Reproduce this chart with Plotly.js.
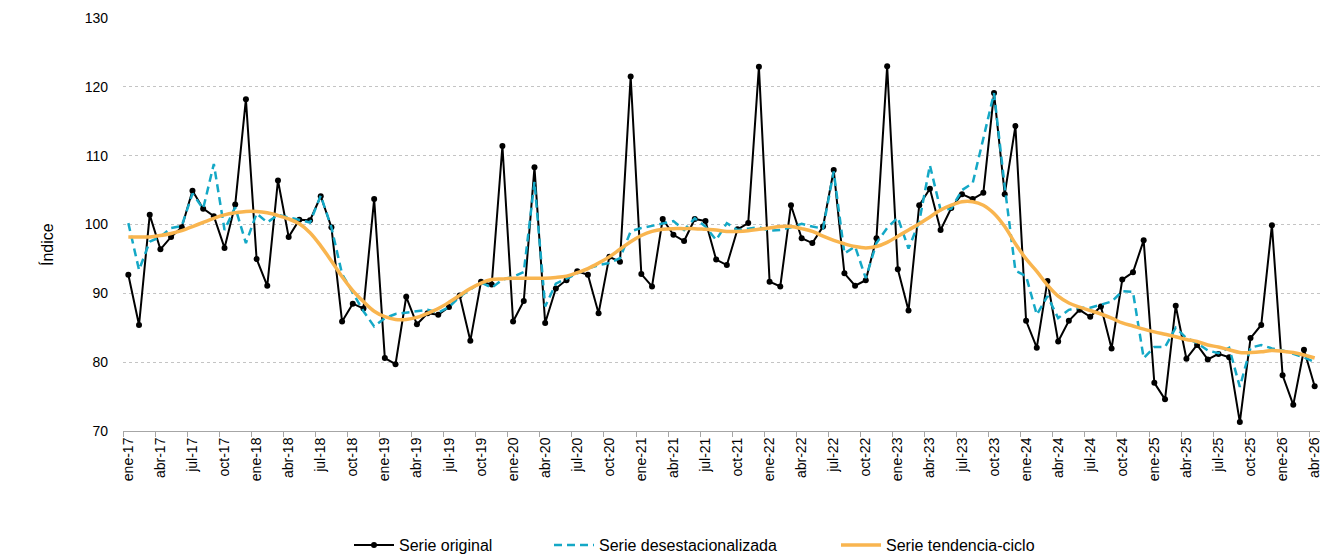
<!DOCTYPE html>
<html>
<head>
<meta charset="utf-8">
<script src="https://cdn.plot.ly/plotly-3.0.1.min.js"></script>
<style>html,body{margin:0;padding:0;background:#fff;}#chart{width:1336px;height:556px;}</style>
</head>
<body>
<div id="chart"></div>
<script>
// Tick labels (every 3 months, starting ene-17)
var tickLabels = ['ene-17','abr-17','jul-17','oct-17','ene-18','abr-18','jul-18','oct-18',
  'ene-19','abr-19','jul-19','oct-19','ene-20','abr-20','jul-20','oct-20',
  'ene-21','abr-21','jul-21','oct-21','ene-22','abr-22','jul-22','oct-22',
  'ene-23','abr-23','jul-23','oct-23','ene-24','abr-24','jul-24','oct-24',
  'ene-25','abr-25','jul-25','oct-25','ene-26','abr-26'];

// Serie original (monthly, ene-17 .. abr-26)
var serieOriginal = [
  92.7, 85.4, 101.4, 96.4, 98.2, 99.6, 104.9, 102.3, 101.2, 96.6, 102.9, 118.2,
  95.0, 91.1, 106.4, 98.2, 100.7, 100.6, 104.1, 99.6, 85.9, 88.5, 87.8, 103.7,
  80.6, 79.7, 89.5, 85.5, 87.1, 86.9, 88.0, 89.7, 83.1, 91.7, 91.3, 111.4,
  85.9, 88.9, 108.3, 85.7, 90.7, 91.9, 93.2, 92.7, 87.1, 95.3, 94.6, 121.5,
  92.8, 91.0, 100.8, 98.5, 97.6, 100.8, 100.5, 94.9, 94.1, 99.3, 100.2, 122.9,
  91.7, 91.0, 102.8, 98.0, 97.3, 99.7, 107.9, 92.9, 91.1, 91.9, 98.0, 123.0,
  93.5, 87.5, 102.8, 105.2, 99.2, 102.4, 104.4, 103.7, 104.6, 119.1, 104.4, 114.3,
  86.0, 82.1, 91.8, 83.0, 86.0, 87.6, 86.6, 88.1, 82.0, 92.0, 93.05, 97.7,
  77.0, 74.6, 88.2, 80.5, 82.5, 80.4, 81.2, 80.7, 71.3, 83.5, 85.4, 99.9,
  78.1, 73.8, 81.8, 76.5];

// Serie desestacionalizada
var serieDesest = [
  100.2, 93.4, 97.5, 98.2, 99.5, 99.8, 104.5, 102.3, 108.8, 99.2, 102.5, 97.3,
  101.6, 100.3, 101.4, 101.0, 100.6, 100.3, 104.2, 99.6, 92.8, 90.2, 87.4, 85.2,
  86.4, 87.0, 87.2, 87.5, 87.6, 87.2, 88.0, 89.5, 90.5, 91.6, 90.8, 92.0,
  92.4, 93.1, 106.2, 88.1, 91.4, 92.2, 92.9, 93.6, 94.1, 94.4, 95.1, 99.0,
  99.5, 99.8, 100.2, 100.5, 99.2, 100.9, 99.7, 97.75, 100.2, 99.2, 99.4, 99.6,
  99.1, 99.2, 99.6, 100.1, 99.7, 99.4, 107.7, 95.8, 96.8, 92.2, 97.3, 99.5,
  101.0, 96.5, 100.4, 108.6, 102.1, 102.3, 105.0, 106.0, 112.5, 119.1, 105.5, 93.3,
  92.5, 86.9, 89.6, 86.4, 87.6, 87.9, 87.9, 88.3, 88.8, 90.3, 90.2, 80.6,
  82.2, 82.2, 85.0, 83.5, 82.8, 81.7, 81.3, 82.1, 76.4, 82.1, 82.5, 82.0,
  81.7, 81.2, 80.7, 80.0];

// Serie tendencia-ciclo
var serieTendencia = [
  98.2, 98.2, 98.2, 98.4, 98.7, 99.1, 99.7, 100.3, 100.9, 101.4, 101.7, 101.9,
  101.9, 101.7, 101.3, 100.8, 100.1, 98.8, 96.9, 94.7, 92.4, 90.4, 88.8, 87.4,
  86.6, 86.2, 86.2, 86.5, 87.1, 87.8, 88.7, 89.7, 90.7, 91.5, 92.0, 92.1,
  92.2, 92.2, 92.2, 92.2, 92.3, 92.5, 93.0, 93.6, 94.4, 95.3, 96.4, 97.5,
  98.4, 99.0, 99.3, 99.4, 99.4, 99.4, 99.3, 99.2, 99.0, 99.0, 99.1, 99.3,
  99.5, 99.7, 99.7, 99.4, 99.0, 98.3, 97.7, 97.2, 96.8, 96.6, 96.8, 97.4,
  98.3, 99.2, 100.1, 101.1, 102.1, 102.8, 103.3, 103.3, 102.8, 101.6, 99.7, 97.2,
  95.0, 93.2, 91.2, 89.6, 88.6, 88.0, 87.5, 87.0, 86.4, 85.7, 85.25, 84.8,
  84.4, 84.05, 83.7, 83.3, 83.0, 82.5, 82.2, 81.8, 81.4, 81.4, 81.5, 81.7,
  81.6, 81.4, 81.05, 80.6];

var idx = serieOriginal.map(function(_, i){ return i; });
var tickVals = tickLabels.map(function(_, k){ return k * 3; });
var boundaryVals = tickLabels.map(function(_, k){ return k * 3 - 0.5; });

var FONT = 'Liberation Sans, Arial, sans-serif';

var traces = [
  {x: idx, y: serieOriginal, name: 'Serie original', type: 'scatter', mode: 'lines+markers',
   line: {color: '#000000', width: 2}, marker: {color: '#000000', size: 6}, legend: 'legend'},
  {x: idx, y: serieDesest, name: 'Serie desestacionalizada', type: 'scatter', mode: 'lines',
   line: {color: '#14A8C6', width: 2.5, dash: '8px,5px'}, legend: 'legend2'},
  {x: idx, y: serieTendencia, name: 'Serie tendencia-ciclo', type: 'scatter', mode: 'lines',
   line: {color: '#F9B54F', width: 3.5, shape: 'spline'}, legend: 'legend3'}
];

function leg(x){
  return {orientation: 'h', x: x, xanchor: 'left', xref: 'container',
    y: 1 - 545 / 556, yanchor: 'middle', yref: 'container', itemwidth: 40,
    bgcolor: 'rgba(0,0,0,0)', font: {family: FONT, size: 16, color: '#000'}};
}

var layout = {
  width: 1336, height: 556,
  margin: {l: 123, r: 16, t: 18, b: 125},
  paper_bgcolor: '#ffffff', plot_bgcolor: '#ffffff',
  font: {family: FONT, size: 14, color: '#000'},
  showlegend: true,
  legend: leg(349 / 1336),
  legend2: leg(549 / 1336),
  legend3: leg(836 / 1336),
  xaxis: {
    range: [-0.5, 111.5], tickmode: 'array', tickvals: tickVals, ticktext: tickLabels,
    tickangle: -90, ticks: '', showline: true, linecolor: '#A6A6A6', linewidth: 1,
    showgrid: false, zeroline: false, automargin: false,
    tickfont: {family: FONT, size: 14, color: '#000'},
    minor: {tickmode: 'array', tickvals: boundaryVals, ticks: 'outside', ticklen: 5,
            tickcolor: '#A6A6A6', tickwidth: 1, showgrid: false},
    fixedrange: true
  },
  yaxis: {
    range: [70, 130], tickmode: 'linear', tick0: 70, dtick: 10,
    showgrid: true, gridcolor: '#C4C4C4', gridwidth: 1, griddash: '3px,3px',
    showline: false, zeroline: false, ticks: '', ticklabelstandoff: 14, automargin: false,
    tickfont: {family: FONT, size: 14, color: '#000'},
    fixedrange: true
  },
  annotations: [{
    text: 'Índice', textangle: -90, showarrow: false,
    xref: 'paper', yref: 'paper', x: (47 - 123) / 1197, y: (431 - 245) / 413,
    xanchor: 'center', yanchor: 'middle',
    font: {family: FONT, size: 16, color: '#000'}
  }]
};

Plotly.newPlot('chart', traces, layout, {displayModeBar: false, staticPlot: true});
</script>
</body>
</html>
